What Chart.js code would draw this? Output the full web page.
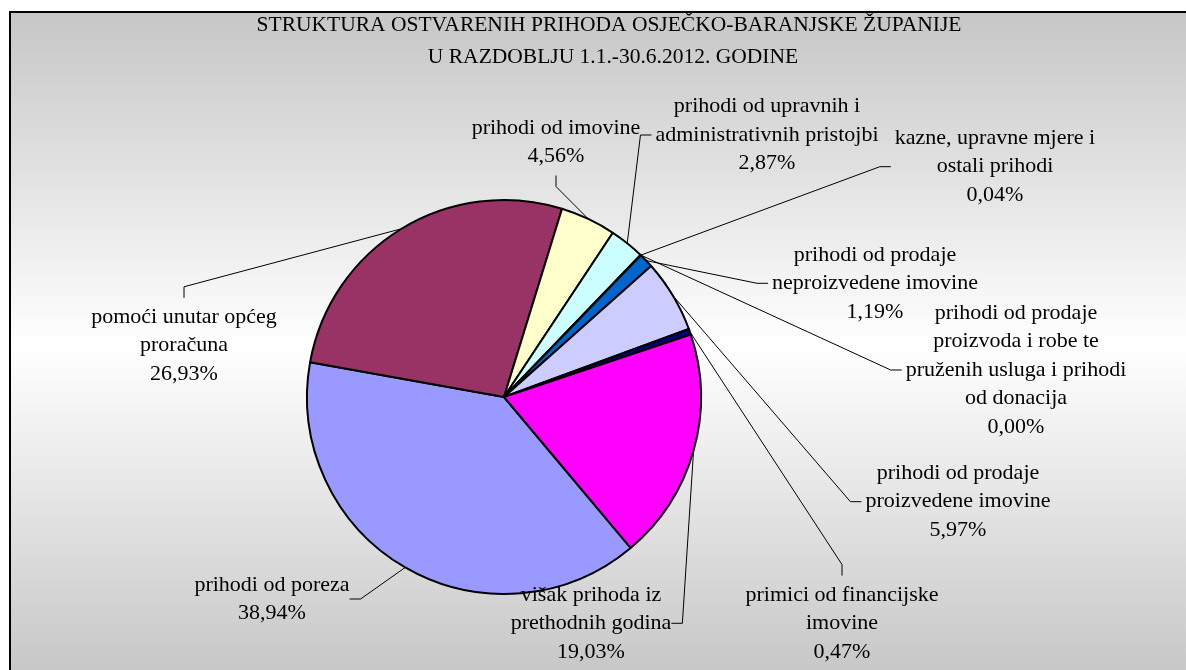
<!DOCTYPE html>
<html>
<head>
<meta charset="utf-8">
<script src="https://cdn.jsdelivr.net/npm/chart.js"></script>
<style>
  html, body { margin: 0; padding: 0; background: #fff; }
  canvas { display: block; }
</style>
</head>
<body>
<canvas id="pie" width="1186" height="670"></canvas>
<script>
const titleLines = ['STRUKTURA OSTVARENIH PRIHODA OSJEČKO-BARANJSKE ŽUPANIJE', 'U RAZDOBLJU 1.1.-30.6.2012. GODINE'];

const categories = [
  ['prihodi od poreza'],
  ['pomoći unutar općeg', 'proračuna'],
  ['prihodi od imovine'],
  ['prihodi od upravnih i', 'administrativnih pristojbi'],
  ['prihodi od prodaje', 'proizvoda i robe te', 'pruženih usluga i prihodi', 'od donacija'],
  ['kazne, upravne mjere i', 'ostali prihodi'],
  ['prihodi od prodaje', 'neproizvedene imovine'],
  ['prihodi od prodaje', 'proizvedene imovine'],
  ['primici od financijske', 'imovine'],
  ['višak prihoda iz', 'prethodnih godina']
];
const shares = [38.94, 26.93, 4.56, 2.87, 0.00, 0.04, 1.19, 5.97, 0.47, 19.03];
const colors = ['#9999ff', '#993366', '#ffffcc', '#ccffff', '#660066', '#ff8080', '#0066cc', '#ccccff', '#000080', '#ff00ff'];

// label blocks as excel placed them: centre x, middle y, side the leader comes in from
const labelAt = [
  [272, 599, 'right'],
  [184, 345.5, 'top'],
  [556, 142, 'bottom'],
  [767, 135, 'left'],
  [1016, 370, 'left'],
  [995, 166.7, 'left'],
  [875, 283.3, 'left'],
  [958, 501.7, 'left'],
  [842, 623.3, 'top'],
  [591, 623.3, 'right']
];

const LABEL_FONT = '22px "Liberation Serif"';
const LINE_H = 28.5;

function pct(v) {
  return v.toFixed(2).replace('.', ',') + '%';
}

const backdrop = {
  id: 'backdrop',
  beforeDraw(chart) {
    const ctx = chart.ctx;
    ctx.save();
    const g = ctx.createLinearGradient(0, 12, 0, 680);
    g.addColorStop(0, '#c6c6c6');
    g.addColorStop(0.5, '#ffffff');
    g.addColorStop(1, '#c6c6c6');
    ctx.fillStyle = g;
    ctx.fillRect(10, 12, 1220, 700);
    ctx.strokeStyle = '#000';
    ctx.lineWidth = 2;
    ctx.strokeRect(10, 12, 1220, 700);

    ctx.fillStyle = '#000';
    ctx.font = '21.5px "Liberation Serif"';
    ctx.textAlign = 'center';
    ctx.textBaseline = 'alphabetic';
    ctx.fillText(titleLines[0], 609, 31);
    ctx.fillText(titleLines[1], 613, 63);
    ctx.restore();
  }
};

const leaderLabels = {
  id: 'leaderLabels',
  afterDatasetsDraw(chart) {
    const ctx = chart.ctx;
    const arcs = chart.getDatasetMeta(0).data;
    ctx.save();
    ctx.font = LABEL_FONT;
    ctx.fillStyle = '#000';
    ctx.strokeStyle = '#000';
    ctx.lineWidth = 1;
    ctx.textAlign = 'center';
    ctx.textBaseline = 'middle';

    arcs.forEach((arc, i) => {
      const lines = categories[i].concat([pct(shares[i])]);
      const [cx, my, side] = labelAt[i];
      const w = Math.max(...lines.map(t => ctx.measureText(t).width));
      const h = lines.length * LINE_H;

      lines.forEach((t, k) => {
        ctx.fillText(t, cx, my + (k - (lines.length - 1) / 2) * LINE_H);
      });

      const p = arc.getProps(['x', 'y', 'startAngle', 'endAngle', 'outerRadius'], true);
      const mid = (p.startAngle + p.endAngle) / 2;
      const ax = p.x + p.outerRadius * Math.cos(mid);
      const ay = p.y + p.outerRadius * Math.sin(mid);

      let ex, ey, bx, by;
      if (side === 'right') { ex = cx + w / 2; ey = my; bx = ex + 11; by = ey; }
      else if (side === 'left') { ex = cx - w / 2 - 4; ey = my; bx = ex - 11; by = ey; }
      else if (side === 'top') { ex = cx; ey = my - h / 2 - 5; bx = ex; by = ey - 11; }
      else { ex = cx; ey = my + h / 2 + 5; bx = ex; by = ey + 11; }

      ctx.beginPath();
      ctx.moveTo(ax, ay);
      ctx.lineTo(bx, by);
      ctx.lineTo(ex, ey);
      ctx.stroke();
    });
    ctx.restore();
  }
};

new Chart(document.getElementById('pie'), {
  type: 'pie',
  data: {
    labels: categories.map(c => c.join(' ')),
    datasets: [{
      data: shares,
      backgroundColor: colors,
      borderColor: '#000',
      borderWidth: 2
    }]
  },
  plugins: [backdrop, leaderLabels],
  options: {
    responsive: false,
    animation: false,
    rotation: 140,
    radius: 197,
    layout: { padding: { left: 0, right: 178, top: 124, bottom: 0 } },
    plugins: {
      legend: { display: false },
      tooltip: { enabled: false }
    }
  }
});
</script>
</body>
</html>
